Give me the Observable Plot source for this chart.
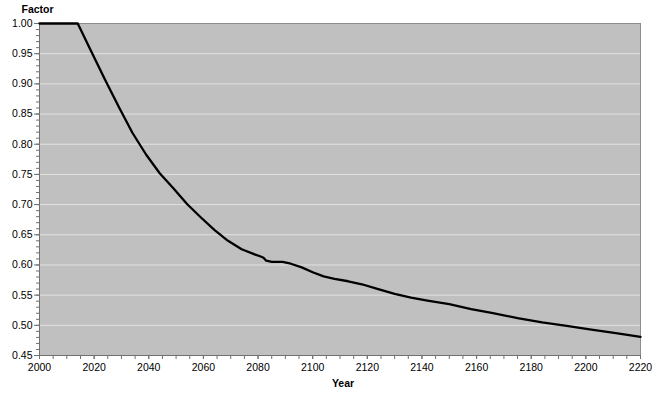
<!DOCTYPE html>
<html>
<head>
<meta charset="utf-8">
<script src="https://cdn.jsdelivr.net/npm/d3@7"></script>
<script src="https://cdn.jsdelivr.net/npm/@observablehq/plot@0.6"></script>
<style>
  html, body { margin: 0; padding: 0; background: white; }
</style>
</head>
<body>
<div id="chart"></div>
<script>
const years = [2000, 2014, 2019, 2024, 2029, 2034, 2039, 2044, 2049, 2054, 2059, 2064, 2069, 2074, 2079, 2081, 2082, 2083, 2085, 2089, 2092, 2096, 2100, 2104, 2108, 2113, 2118, 2124, 2130, 2136, 2142, 2150, 2158, 2166, 2175, 2184, 2193, 2202, 2211, 2220];
const factors = [1.000, 1.000, 0.953, 0.907, 0.862, 0.819, 0.783, 0.752, 0.727, 0.701, 0.679, 0.658, 0.640, 0.626, 0.617, 0.614, 0.612, 0.607, 0.605, 0.605, 0.602, 0.596, 0.588, 0.581, 0.577, 0.573, 0.568, 0.560, 0.552, 0.546, 0.541, 0.535, 0.527, 0.520, 0.512, 0.505, 0.499, 0.493, 0.487, 0.481];
const xTicks = [2000, 2020, 2040, 2060, 2080, 2100, 2120, 2140, 2160, 2180, 2200, 2220];
const yTicks = [0.45, 0.50, 0.55, 0.60, 0.65, 0.70, 0.75, 0.80, 0.85, 0.90, 0.95, 1.00];

const data = years.map((y, i) => ({year: y, factor: factors[i]}));
const xMinor = d3.range(2000, 2221, 5);
const yMinor = d3.range(45, 101, 1).map(v => v / 100);

const chart = Plot.plot({
  width: 660,
  height: 394,
  marginLeft: 39,
  marginRight: 20,
  marginTop: 23,
  marginBottom: 39,
  style: {fontFamily: "'Liberation Sans', Arial, sans-serif", fontSize: "10.5px", background: "white", color: "black"},
  x: {domain: [2000, 2220]},
  y: {domain: [0.45, 1.0]},
  marks: [
    Plot.frame({fill: "#c0c0c0", stroke: "#8c8c8c"}),
    Plot.gridY(yTicks.slice(1, -1), {stroke: "#e2e2e2", strokeOpacity: 1, strokeWidth: 1}),
    Plot.axisY({ticks: yMinor, tickSize: 3, text: null, stroke: "#707070", label: null}),
    Plot.axisY({ticks: yTicks, tickSize: 5, tickPadding: 2, tickFormat: d => d.toFixed(2), stroke: "#707070", label: null, fontSize: 10.5}),
    Plot.axisX({ticks: xMinor, tickSize: 4, text: null, stroke: "#707070", label: null}),
    Plot.axisX({ticks: xTicks, tickSize: 4, tickPadding: 4, tickFormat: d => String(d), stroke: "#707070", label: null, fontSize: 10.5}),
    Plot.ruleX([2000], {stroke: "#707070"}),
    Plot.ruleY([0.45], {stroke: "#707070"}),
    Plot.line(data, {x: "year", y: "factor", stroke: "black", strokeWidth: 2.3, curve: "linear", strokeLinejoin: "round"}),
    Plot.text(["Factor"], {frameAnchor: "top-left", dx: -18, dy: -18, lineAnchor: "top", textAnchor: "start", fontWeight: "bold", fontSize: 10.5}),
    Plot.text(["Year"], {frameAnchor: "bottom", dx: 3, dy: 31.5, fontWeight: "bold", fontSize: 10.5})
  ]
});
document.getElementById("chart").appendChild(chart);
</script>
</body>
</html>
